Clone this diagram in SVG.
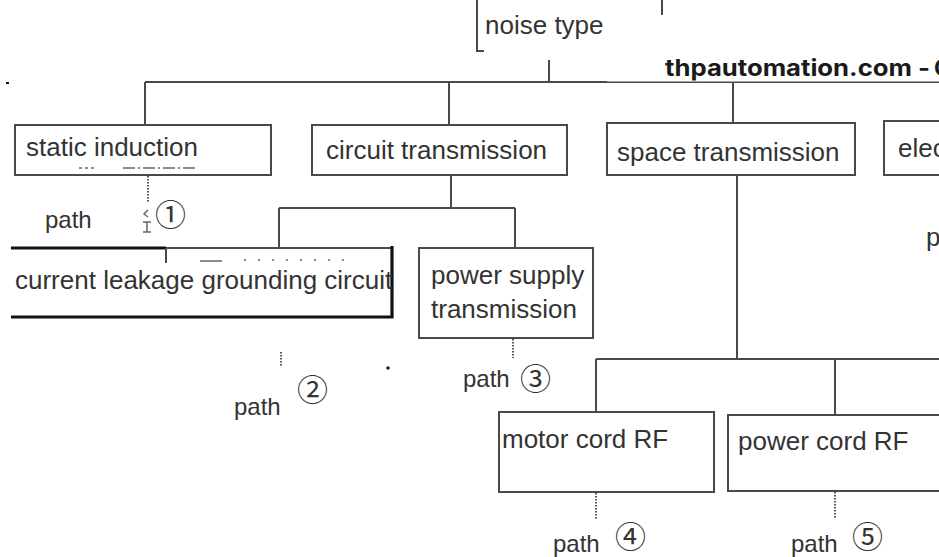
<svg xmlns="http://www.w3.org/2000/svg" width="939" height="557" viewBox="0 0 939 557">
<style>
.bg{fill:#ffffff}
.box{fill:#ffffff;stroke:#4a4a4a;stroke-width:2}
.ln{fill:none;stroke:#4a4a4a;stroke-width:2}
.heavy{fill:none;stroke:#111111;stroke-width:3.2}
.dot{fill:none;stroke:#555555;stroke-width:2;stroke-dasharray:1.5 1.5}
.mark{fill:none;stroke:#666666;stroke-width:1.5}
.t{font-family:"Liberation Sans",Arial,sans-serif;font-size:26px;fill:#333333}
.p{font-family:"Liberation Sans",Arial,sans-serif;font-size:24px;fill:#333333}
.c{font-family:"Noto Sans CJK SC","DejaVu Sans",sans-serif;font-size:31px;fill:#333333}
.wm{font-family:"Inter","Noto Sans",sans-serif;font-size:23px;font-weight:700;fill:#1a1a1a}
</style>
<rect class="bg" x="0" y="0" width="939" height="557"/>

<g id="connectors">
  <line class="ln" x1="549" y1="60" x2="549" y2="82"/>
  <line class="ln" x1="145" y1="82" x2="939" y2="82"/>
  <line class="ln" x1="145" y1="82" x2="145" y2="125"/>
  <line class="ln" x1="449" y1="82" x2="449" y2="125"/>
  <line class="ln" x1="733" y1="82" x2="733" y2="123"/>
  <line class="ln" x1="451" y1="175" x2="451" y2="208"/>
  <line class="ln" x1="279" y1="208" x2="515" y2="208"/>
  <line class="ln" x1="279" y1="208" x2="279" y2="248"/>
  <line class="ln" x1="515" y1="208" x2="515" y2="248"/>
  <line class="ln" x1="737" y1="175" x2="737" y2="359"/>
  <line class="ln" x1="596" y1="359" x2="939" y2="359"/>
  <line class="ln" x1="596" y1="359" x2="596" y2="412"/>
  <line class="ln" x1="835" y1="359" x2="835" y2="415"/>
  <line class="dot" x1="148" y1="176" x2="148" y2="202"/>
  <line class="dot" x1="281" y1="352" x2="281" y2="367"/>
  <line class="dot" x1="513" y1="339" x2="513" y2="358"/>
  <line class="dot" x1="596" y1="493" x2="596" y2="520"/>
  <line class="dot" x1="835" y1="492" x2="835" y2="518"/>
</g>

<g id="watermark">
  <rect x="607" y="16" width="332" height="65.5" fill="#ffffff"/>
  <text class="wm" x="665" y="76" textLength="265" lengthAdjust="spacingAndGlyphs">thpautomation.com -</text>
  <text class="wm" x="934" y="76">C</text>
</g>

<g id="noise-type">
  <polyline class="ln" points="477,0 477,51 484,51"/>
  <line class="ln" x1="662" y1="0" x2="662" y2="15"/>
  <text class="t" x="485" y="34">noise type</text>
</g>

<g id="static-induction">
  <rect class="box" x="15" y="125" width="256" height="50"/>
  <text class="t" x="26" y="156">static induction</text>
  <line class="mark" x1="79" y1="168" x2="96" y2="168" stroke-dasharray="3 3"/>
  <line class="mark" x1="123" y1="168" x2="195" y2="168" stroke-dasharray="12 3 2 3"/>
</g>

<g id="path1">
  <text class="p" x="45" y="228">path</text>
  <path class="mark" d="M148,210 L144,214 L148,217 M143,222 L151,222 M147,222 L147,232 M143,232 L151,232"/>
  <text class="c" x="155" y="226">①</text>
</g>

<g id="circuit-transmission">
  <rect class="box" x="312" y="125" width="255" height="50"/>
  <text class="t" x="326" y="159">circuit transmission</text>
</g>

<g id="space-transmission">
  <rect class="box" x="607" y="123" width="248" height="52"/>
  <text class="t" x="617" y="161">space transmission</text>
</g>

<g id="elec">
  <rect class="box" x="884" y="121" width="70" height="54"/>
  <text class="t" x="898" y="157">elec</text>
  <text class="t" x="926" y="246">p</text>
</g>

<g id="current-leakage">
  <rect x="11" y="248" width="381" height="69" fill="#ffffff"/>
  <line class="ln" x1="165" y1="248" x2="392" y2="248"/>
  <line class="heavy" x1="11" y1="248" x2="166" y2="248"/>
  <line class="ln" x1="166" y1="248" x2="166" y2="263"/>
  <polyline class="heavy" points="392,246 392,317 11,317"/>
  <line class="mark" x1="200" y1="261" x2="222" y2="261"/>
  <line class="mark" x1="244" y1="260" x2="356" y2="260" stroke-dasharray="2 12"/>
  <text class="t" x="15" y="289">current leakage grounding circuit</text>
</g>

<g id="path2">
  <text class="p" x="234" y="415">path</text>
  <text class="c" x="297" y="401">②</text>
  <circle cx="388" cy="368" r="1.8" fill="#222222"/>
</g>

<g id="power-supply-transmission">
  <rect class="box" x="419" y="248" width="174" height="90"/>
  <text class="t" x="431" y="284">power supply</text>
  <text class="t" x="431" y="318">transmission</text>
</g>

<g id="path3">
  <text class="p" x="463" y="387">path</text>
  <text class="c" x="520" y="390">③</text>
</g>

<g id="motor-cord-rf">
  <rect class="box" x="499" y="412" width="215" height="80"/>
  <text class="t" x="502" y="448">motor cord RF</text>
</g>

<g id="path4">
  <text class="p" x="553" y="552">path</text>
  <text class="c" x="615" y="548">④</text>
</g>

<g id="power-cord-rf">
  <rect class="box" x="728" y="415" width="230" height="76"/>
  <text class="t" x="738" y="450">power cord RF</text>
</g>

<g id="path5">
  <text class="p" x="791" y="552">path</text>
  <text class="c" x="852" y="548">⑤</text>
</g>

<rect x="6" y="82" width="3" height="2" fill="#111111"/>
</svg>
